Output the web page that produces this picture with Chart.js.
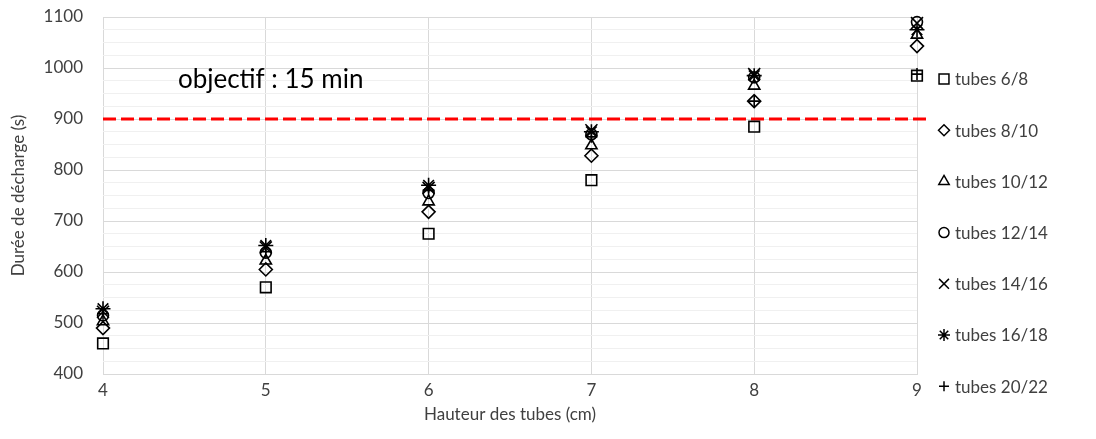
<!DOCTYPE html>
<html>
<head>
<meta charset="utf-8">
<script src="https://cdn.jsdelivr.net/npm/chart.js@4.4.1/dist/chart.umd.min.js"></script>
<style>
  html, body { margin: 0; padding: 0; background: #fff; }
  #wrap { width: 1096px; height: 439px; }
</style>
</head>
<body>
<div id="wrap"><canvas id="graphe"></canvas></div>
<script>
// hauteurs des tubes (cm)
const hauteurs = [4, 5, 6, 7, 8, 9];
// durées de décharge (s), une liste par diamètre
const tubes6_8   = [460, 570, 675, 780, 885, 985];
const tubes8_10  = [490, 605, 718, 828, 935, 1043];
const tubes10_12 = [503, 622, 738, 848, 965, 1065];
const tubes12_14 = [515, 638, 755, 870, 982, 1090];
const tubes14_16 = [522, 648, 765, 878, 988, 1088];
const tubes16_18 = [528, 652, 770, 875, 985, 1075];
const tubes20_22 = [518, 640, 760, 865, 935, 988];
// objectif : 15 min = 900 s
const objectifX = [4, 9.07];
const objectifY = [900, 900];
const yTicks = [400, 500, 600, 700, 800, 900, 1000, 1100];

const police = 'Lato, "Open Sans", sans-serif';
const texte = '#404040';

function pts(ys) {
  return hauteurs.map((x, i) => ({ x: x, y: ys[i] }));
}

const series = [
  { label: 'tubes 6/8',   data: tubes6_8,   style: 'rect',     r: 7.5, lr: 7 },
  { label: 'tubes 8/10',  data: tubes8_10,  style: 'rectRot',  r: 6.5, lr: 5.5 },
  { label: 'tubes 10/12', data: tubes10_12, style: 'triangle', r: 6.5, lr: 6 },
  { label: 'tubes 12/14', data: tubes12_14, style: 'circle',   r: 5.5, lr: 5 },
  { label: 'tubes 14/16', data: tubes14_16, style: 'crossRot', r: 8.5, lr: 7 },
  { label: 'tubes 16/18', data: tubes16_18, style: 'star',     r: 7.5, lr: 6 },
  { label: 'tubes 20/22', data: tubes20_22, style: 'cross',    r: 6,   lr: 5 }
];

const datasets = series.map(s => ({
  type: 'scatter',
  label: s.label,
  data: pts(s.data),
  pointStyle: s.style,
  pointRadius: s.r,
  pointHoverRadius: s.r,
  pointBorderWidth: 1.6,
  borderColor: '#000',
  backgroundColor: 'rgba(0,0,0,0)',
  clip: false
}));

datasets.unshift({
  type: 'line',
  label: 'objectif',
  data: objectifX.map((x, i) => ({ x: x, y: objectifY[i] })),
  borderColor: '#ff0000',
  borderWidth: 3.2,
  borderDash: [13, 5],
  pointRadius: 0,
  clip: false,
  order: 10
});

// légende à droite + texte "objectif"
const legendeDroite = {
  id: 'legendeDroite',
  afterDraw(chart) {
    const ctx = chart.ctx;
    ctx.save();
    ctx.font = '17px ' + police;
    ctx.textBaseline = 'middle';
    series.forEach((s, i) => {
      const y = 79 + i * 51.2;
      ctx.strokeStyle = '#000';
      ctx.fillStyle = 'rgba(0,0,0,0)';
      ctx.lineWidth = 1.5;
      Chart.helpers.drawPoint(ctx, { pointStyle: s.style, radius: s.lr, rotation: 0, borderWidth: 1.5 }, 944, y);
      ctx.fillStyle = texte;
      ctx.fillText(s.label, 955, y + 1);
    });
    const xs = chart.scales.x, ys = chart.scales.y;
    ctx.font = '26px ' + police;
    ctx.fillStyle = '#000';
    ctx.fillText('objectif : 15 min', xs.getPixelForValue(4.46), ys.getPixelForValue(977));
    ctx.restore();
  }
};

new Chart(document.getElementById('graphe'), {
  data: { datasets: datasets },
  plugins: [legendeDroite],
  options: {
    responsive: true,
    maintainAspectRatio: false,
    animation: false,
    events: [],
    layout: { padding: { top: 17, right: 179, left: 0, bottom: 0 } },
    plugins: {
      legend: { display: false },
      tooltip: { enabled: false }
    },
    scales: {
      x: {
        type: 'linear',
        min: 4,
        max: 9,
        ticks: { stepSize: 1, color: texte, font: { family: police, size: 17 }, padding: 6 },
        grid: { color: '#d9d9d9', drawTicks: false },
        border: { color: '#d9d9d9' },
        title: { display: true, text: 'Hauteur des tubes (cm)', color: texte, font: { family: police, size: 17 }, padding: { top: 0, bottom: 14 } },
        afterFit(s) { s.height = 65; }
      },
      y: {
        type: 'linear',
        min: 400,
        max: 1100,
        ticks: {
          stepSize: 25,
          autoSkip: false,
          color: texte,
          font: { family: police, size: 17 },
          padding: 20,
          callback: v => yTicks.includes(v) ? v : ''
        },
        grid: {
          drawTicks: false,
          color: c => (c.tick && c.tick.value % 100 === 0) ? '#d9d9d9' : '#f0f0f0'
        },
        border: { display: false },
        title: { display: true, text: 'Durée de décharge (s)', color: texte, font: { family: police, size: 17 }, padding: { top: 8, bottom: 0 } },
        afterFit(s) { s.width = 103; s.paddingTop = 0; s.paddingBottom = 0; }
      }
    }
  }
});
</script>
</body>
</html>
